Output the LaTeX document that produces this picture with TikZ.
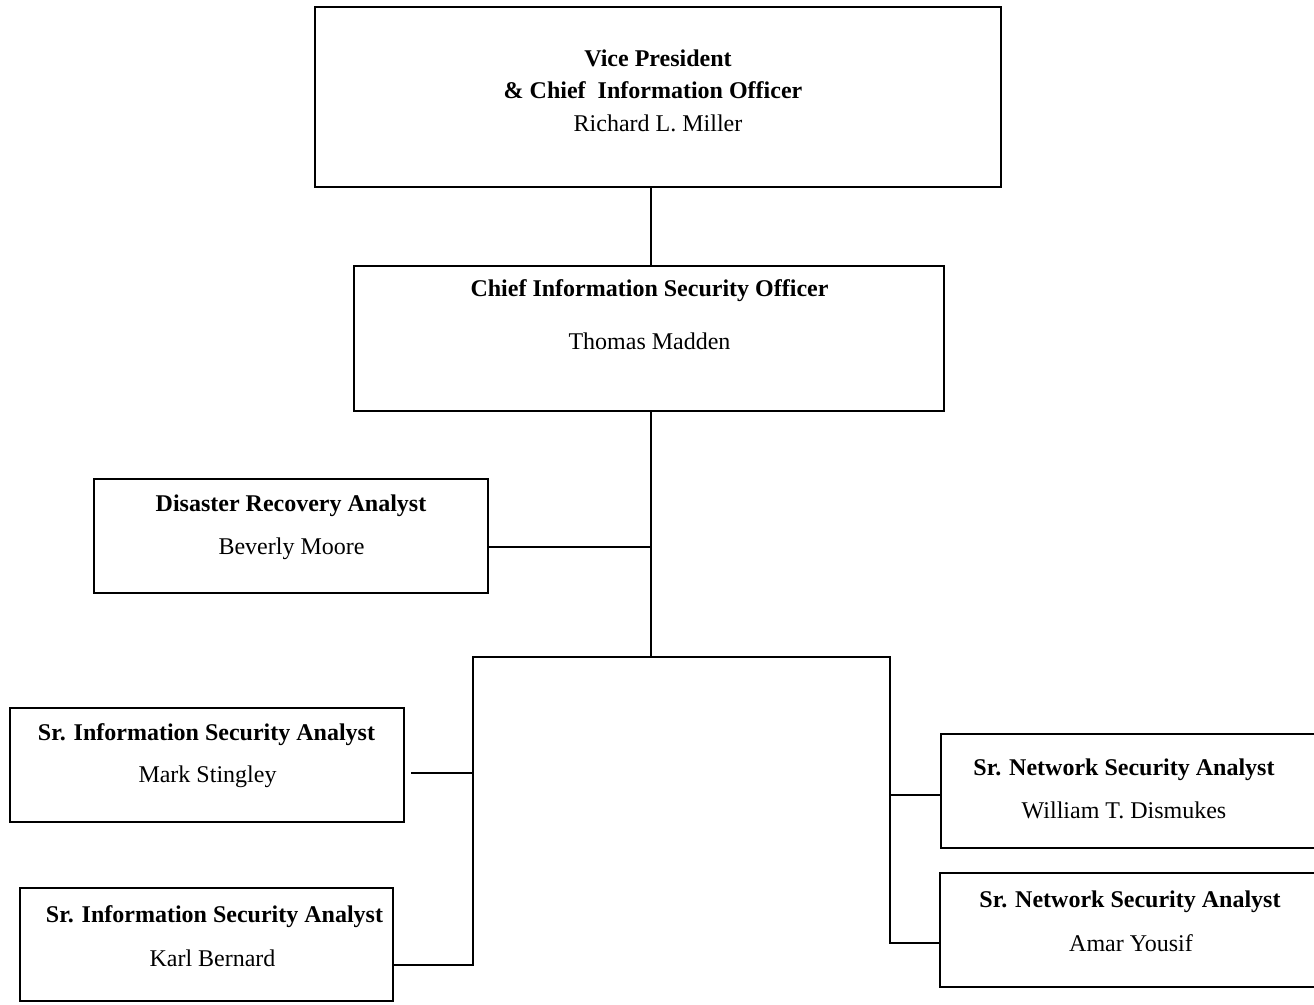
\documentclass[tikz,border=0pt]{standalone}
\usepackage{fontspec}
\setmainfont{Liberation Serif}

\begin{document}
\begin{tikzpicture}[x=0.5pt, y=-0.5pt,
    post/.style={draw=black, line width=1.4pt, inner sep=0pt},
    jobtitle/.style={anchor=base, font=\fontsize{12pt}{14pt}\selectfont\bfseries},
    holder/.style={anchor=base, font=\fontsize{12pt}{14pt}\selectfont},
    link/.style={draw=black, line width=1.15pt}]

    \clip (0,0) rectangle (1314,1005);

    % boxes
    \node[post, minimum width=343pt, minimum height=90pt] (vp) at (658, 97) {};
    \node[post, minimum width=295pt, minimum height=72.5pt] (ciso) at (649, 338.5) {};
    \node[post, minimum width=197pt, minimum height=57pt] (dr) at (291, 536) {};
    \node[post, minimum width=197pt, minimum height=57pt] (mark) at (207, 765) {};
    \node[post, minimum width=186.5pt, minimum height=56.5pt] (karl) at (206.5, 944.5) {};
    \node[post, minimum width=189.5pt, minimum height=57pt] (william) at (1130.5, 791) {};
    \node[post, minimum width=190pt, minimum height=57pt] (amar) at (1130, 930) {};

    % texts
    \node[jobtitle] (vp-t1) at (658, 67) {Vice President};
    \node[jobtitle] (vp-t2) at (653, 99) {\& Chief~ Information Officer};
    \node[holder] (vp-n) at (658, 132) {Richard L. Miller};

    \node[jobtitle] (ciso-t) at (649.5, 297) {Chief Information Security Officer};
    \node[holder] (ciso-n) at (649.5, 350) {Thomas Madden};

    \node[jobtitle] (dr-t) at (291, 512) {Disaster Recovery Analyst};
    \node[holder] (dr-n) at (291.5, 555) {Beverly Moore};

    \node[jobtitle] (mark-t) at (206.5, 741) {Sr. Information Security Analyst};
    \node[holder] (mark-n) at (207.5, 783) {Mark Stingley};

    \node[jobtitle] (karl-t) at (214.5, 923) {Sr. Information Security Analyst};
    \node[holder] (karl-n) at (212.5, 966) {Karl Bernard};

    \node[jobtitle] (william-t) at (1124, 776) {Sr. Network Security Analyst};
    \node[holder] (william-n) at (1124, 819) {William T. Dismukes};

    \node[jobtitle] (amar-t) at (1130, 908) {Sr. Network Security Analyst};
    \node[holder] (amar-n) at (1131, 951) {Amar Yousif};

    % junctions
    \coordinate (trunk) at (651, 657);
    \coordinate (drj) at (651, 547);
    \coordinate (busl) at (473, 657);
    \coordinate (busr) at (890, 657);
    \coordinate (markj) at (473, 773);
    \coordinate (karlj) at (473, 965);
    \coordinate (williamj) at (890, 795);
    \coordinate (amarj) at (890, 943);

    % connectors
    \draw[link] (vp.south -| trunk) -- (ciso.north -| trunk);
    \draw[link] (ciso.south -| trunk) -- (trunk);
    \draw[link] (drj -| dr.east) -- (drj);
    \draw[link] (karl.east |- karlj) -- (karlj) -- (busl) -- (busr) -- (amarj) -- (amar.west |- amarj);
    \draw[link, shorten <=3pt] (mark.east |- markj) -- (markj);
    \draw[link] (william.west |- williamj) -- (williamj);
\end{tikzpicture}
\end{document}
